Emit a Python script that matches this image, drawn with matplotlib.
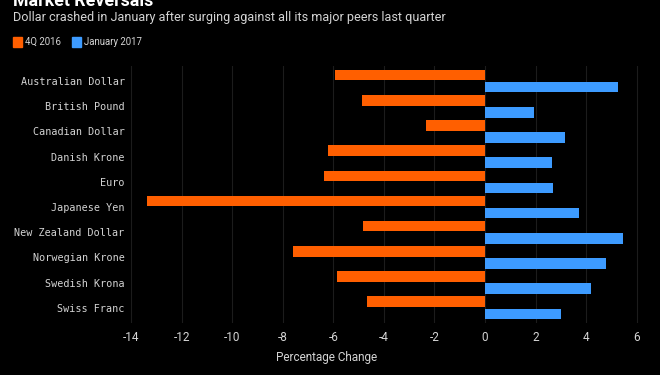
import matplotlib
matplotlib.use("Agg")
import matplotlib.pyplot as plt
import matplotlib.transforms as mtransforms
import numpy as np

currencies = [
    "Australian Dollar", "British Pound", "Canadian Dollar", "Danish Krone",
    "Euro", "Japanese Yen", "New Zealand Dollar", "Norwegian Krone",
    "Swedish Krona", "Swiss Franc",
]
q4_2016 = [-5.93, -4.86, -2.33, -6.2, -6.37, -13.36, -4.82, -7.59, -5.85, -4.67]
jan_2017 = [5.25, 1.95, 3.18, 2.65, 2.69, 3.7, 5.47, 4.8, 4.18, 3.02]
xticks = [-14, -12, -10, -8, -6, -4, -2, 0, 2, 4, 6]

orange = "#ff5f00"
blue = "#3d9bff"
text_col = "#d4d4d4"
sans = ["Roboto", "DejaVu Sans"]

fig = plt.figure(figsize=(6.6, 3.75), dpi=100, facecolor="black")
ax = fig.add_axes([0.191, 0.139, 0.789, 0.685], facecolor="black")

y = np.arange(len(currencies))
h = 0.42
ax.barh(y - 0.24, q4_2016, height=h, color=orange, zorder=3)
ax.barh(y + 0.24, jan_2017, height=h, color=blue, zorder=3)

ax.set_xlim(-14.2, 6.4)
ax.set_ylim(len(currencies) - 0.4, -0.6)
ax.set_xticks(xticks)
ax.set_xticklabels([str(t) for t in xticks], color=text_col, fontsize=8.5, family=sans)
ax.set_yticks(y)
ax.set_yticklabels(currencies, color=text_col, fontsize=7.3, family="DejaVu Sans Mono")
ax.tick_params(axis="both", length=0)
ax.tick_params(axis="x", pad=6)
ax.tick_params(axis="y", pad=1)
ax.grid(axis="x", color="#1c1c1c", linewidth=0.8, zorder=0)
for s in ax.spines.values():
    s.set_visible(False)

# x label sits under the middle of the ticks region
trans = mtransforms.blended_transform_factory(ax.transData, fig.transFigure)
ax.text(-6.25, 1 - 357 / 375, "Percentage Change", transform=trans,
        ha="center", va="center", color=text_col, fontsize=8.5, family=sans)

# title (cut off at the top, as in the source), subtitle and legend
fig.text(13 / 660, 1 - 6.5 / 375, "Market Reversals", color="white",
         fontsize=12.8, fontweight="bold", va="baseline", ha="left", family=sans)
fig.text(13 / 660, 1 - 18 / 375,
         "Dollar crashed in January after surging against all its major peers last quarter",
         color=text_col, fontsize=9.1, va="center", ha="left", family=sans)

legend_items = [("4Q 2016", orange, 13), ("January 2017", blue, 72)]
for label, col, x0 in legend_items:
    fig.patches.append(plt.Rectangle((x0 / 660, 1 - 47 / 375), 9 / 660, 10 / 375,
                                     transform=fig.transFigure, color=col))
    fig.text((x0 + 12) / 660, 1 - 42 / 375, label, color=text_col, fontsize=6.9,
             va="center", ha="left", family=sans)

fig.savefig("out.png", dpi=100, facecolor="black")
